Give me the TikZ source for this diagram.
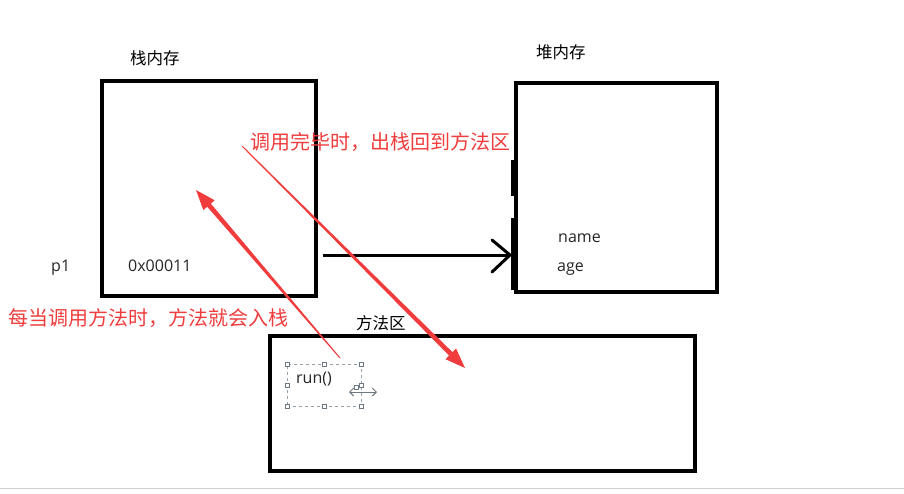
\documentclass[tikz,border=0pt]{standalone}
\usepackage{fontspec}
\setmainfont{Open Sans}
\newfontfamily\cjk{Noto Sans CJK SC}
\usetikzlibrary{arrows.meta,calc}
\definecolor{redc}{RGB}{240,60,60}
\definecolor{handle}{RGB}{110,120,130}
\newcommand{\taperarrow}[2]{%
  \coordinate (tt) at (#1);
  \coordinate (tp) at (#2);
  \coordinate (hb) at ($(tp)!20pt!(tt)$);
  \fill[redc] ($(tt)!0.5pt!90:(tp)$) -- ($(hb)!2.4pt!90:(tp)$) -- ($(hb)!7.5pt!90:(tp)$) -- (tp)
     -- ($(hb)!7.5pt!-90:(tp)$) -- ($(hb)!2.4pt!-90:(tp)$) -- ($(tt)!0.5pt!-90:(tp)$) -- cycle;}
\begin{document}
\begin{tikzpicture}[x=1pt,y=-1pt,
  box/.style={draw=black,line width=4pt},
  lbl/.style={inner sep=0pt,anchor=west,font=\cjk\fontsize{16.5}{17}\selectfont},
  txt/.style={inner sep=0pt,anchor=west,font=\fontsize{16}{16}\selectfont,text=black!85},
  redt/.style={inner sep=0pt,anchor=west,font=\cjk\fontsize{20}{20}\selectfont,text=redc},
  hdl/.style={draw=handle,fill=white,line width=0.6pt,minimum size=4pt,inner sep=0pt,rectangle}]
\useasboundingbox (0,0) rectangle (904,493);
\fill[white] (0,0) rectangle (904,493);
\draw[black!18,line width=1pt] (0,488) -- (904,488);
% boxes
\node[box,minimum width=214pt,minimum height=215pt,anchor=north west,inner sep=0pt] (stack) at (100,79) {};
\node[box,minimum width=201pt,minimum height=209pt,anchor=north west,inner sep=0pt] (heap) at (514,81) {};
\node[box,minimum width=425pt,minimum height=135pt,anchor=north west,inner sep=0pt] (method) at (268,334) {};
\fill[black] (314,165) rectangle (317.5,200);
\fill[black] (510.5,160) rectangle (514,196);
\fill[black] (510.5,218) rectangle (514,290);
% labels
\node[lbl] (l1) at (130,58) {栈内存};
\node[lbl] (l2) at (536,52) {堆内存};
\node[lbl] (l3) at (356,323) {方法区};
\node[txt] (p1) at (51,268) {p1};
\node[txt] (addr) at (128,266) {0x00011};
\node[txt] (nm) at (558,238) {name};
\node[txt] (ag) at (557,269) {age};
% reference arrow
\coordinate (as) at (323,255);
\coordinate (ae) at (510,255);
\draw[line width=3pt] (as) -- (ae);
\draw[line width=3pt,line cap=round,line join=miter] (492,240) -- (ae) -- (492,272);
% red texts
\node[redt] (t1) at (250,142) {调用完毕时，出栈回到方法区};
\node[redt] (t2) at (8,318) {每当调用方法时，方法就会入栈};
% red arrows (tapered)
\taperarrow{242,146}{465,368}
\taperarrow{340,358}{196,190}
% run() selection
\node[draw=handle!70,dashed,line width=0.7pt,minimum width=74pt,minimum height=42pt,anchor=north west,inner sep=0pt] (sel) at (287,364) {};
\node[txt] (run) at (296,379) {run()};
\foreach \a in {north west,north,north east,west,east,south west,south,south east}
  \node[hdl] at (sel.\a) {};
\node[hdl] at (356,387) {};
\draw[handle,line width=0.9pt,{Straight Barb[length=4pt]}-{Straight Barb[length=4pt]}] (349,392) -- (377,392);
\end{tikzpicture}
\end{document}
